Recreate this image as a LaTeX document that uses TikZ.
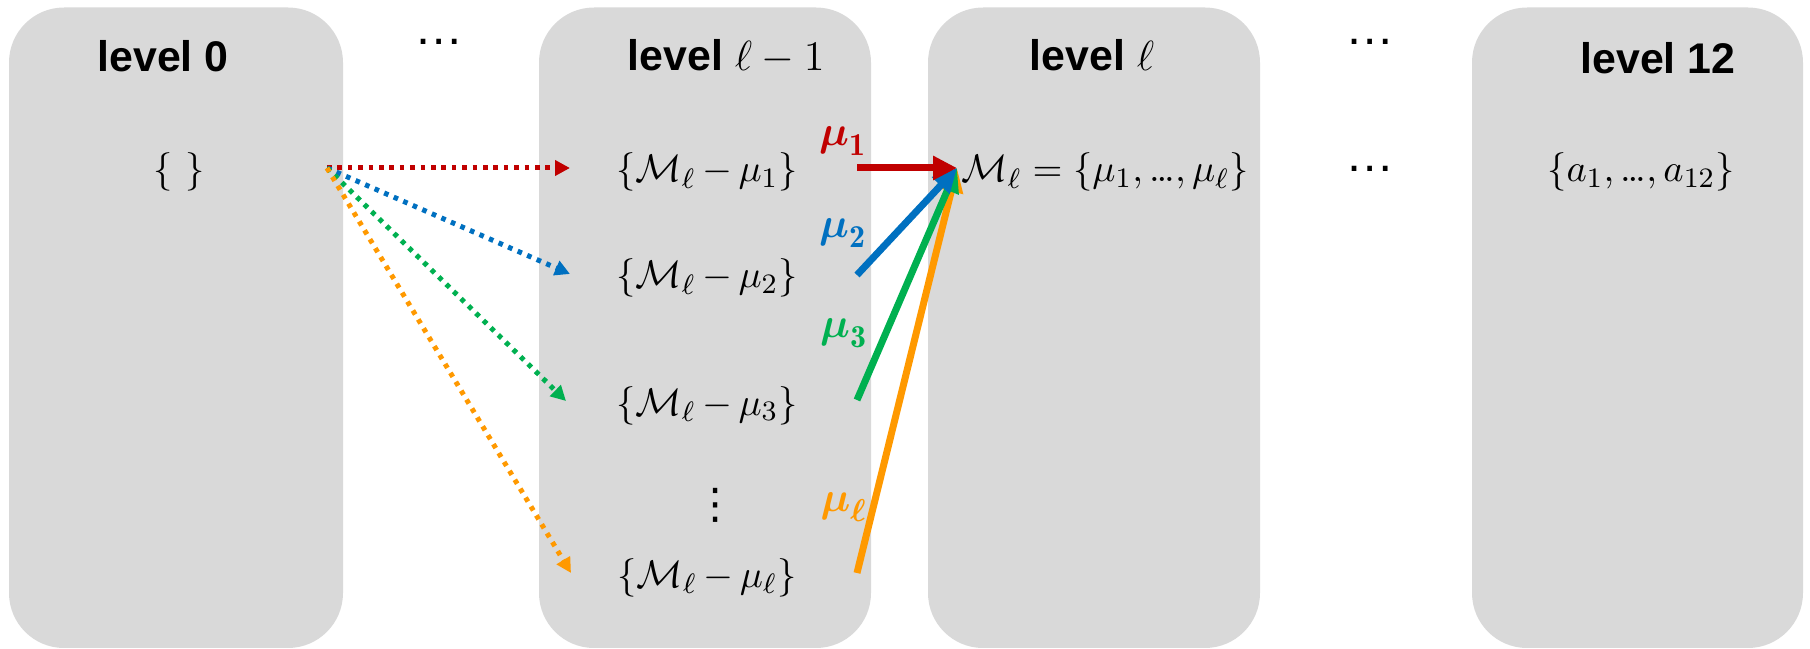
\documentclass[tikz,border=0pt]{standalone}
\usepackage{amsmath}
\usepackage{fontspec}
\newfontfamily\arialf{Liberation Sans}
\newfontfamily\djvf{DejaVu Sans}
\usetikzlibrary{arrows.meta}
\definecolor{boxgray}{HTML}{D9D9D9}
\definecolor{cred}{HTML}{C00000}
\definecolor{cblue}{HTML}{0070C0}
\definecolor{cgreen}{HTML}{00B050}
\definecolor{corange}{HTML}{FF9900}
\newcommand{\cel}{\text{…}}
\newcommand{\tightmu}{\medmuskip=3mu\relax}
\begin{document}
\begin{tikzpicture}[x=0.1mm,y=-0.1mm,
 colbox/.style={fill=boxgray, rounded corners=5.5mm, minimum height=64.05mm, inner sep=0pt},
 lvl/.style={font=\arialf\bfseries\fontsize{12.2}{14}\selectfont, anchor=base, inner sep=0pt},
 setn/.style={font=\fontsize{10.9}{14}\selectfont\tightmu, anchor=base, inner sep=0pt},
 mul/.style={font=\fontsize{13}{15}\selectfont, inner sep=0pt},
 ellip/.style={font=\arialf\fontsize{14}{16}\selectfont, anchor=base, inner sep=0pt},
 dotarr/.style={line width=0.5mm, dash pattern=on 0.46mm off 0.58mm, -{Triangle[length=1.5mm,width=1.5mm]}},
 solarr/.style={line width=0.7mm, -{Triangle[length=2.4mm,width=2.3mm]}},
]
\useasboundingbox (0,0) rectangle (1810,649);
% columns
\node[colbox, minimum width=33.4mm] (b0) at (176,327.75) {};
\node[colbox, minimum width=33.2mm] (b1) at (705,327.75) {};
\node[colbox, minimum width=33.2mm] (b2) at (1094,327.75) {};
\node[colbox, minimum width=33.1mm] (b3) at (1637.5,327.75) {};
% level labels
\node[lvl] (l0) at (163,72) {level 0};
\node[lvl] (l1) at (726,71) {level $\ell-1$};
\node[lvl] (l2) at (1092,71) {level $\ell$};
\node[lvl] (l3) at (1658,74) {level 12};
% ellipses
\node[ellip] (e1) at (439,45) {…};
\node[ellip] (e2) at (1370,45) {…};
\node[ellip] (e3) at (1370,172) {…};
% sets
\node[setn] (s0) at (179,182) {$\{\ \}$};
\node[setn] (s1) at (707,182) {$\{\mathcal{M}_\ell-\mu_1\}$};
\node[setn] (s2) at (707,288) {$\{\mathcal{M}_\ell-\mu_2\}$};
\node[setn] (s3) at (707,415) {$\{\mathcal{M}_\ell-\mu_3\}$};
\node[font=\djvf\fontsize{12}{14}\selectfont, inner sep=0pt] (vd) at (716,505) {⋮};
\node[setn] (sl) at (707,587) {$\{\mathcal{M}_\ell-\mu_\ell\}$};
\node[setn, anchor=base west] (m) at (961,182) {$\mathcal{M}_\ell=\{\mu_1,\cel,\mu_\ell\}$};
\node[setn] (a) at (1641,182) {$\{a_1,\cel,a_{12}\}$};
% mu labels
\node[mul, text=cred] (mu1) at (843,141) {$\boldsymbol{\mu}_{\mathbf{1}}$};
\node[mul, text=cblue] (mu2) at (843,233) {$\boldsymbol{\mu}_{\mathbf{2}}$};
\node[mul, text=cgreen] (mu3) at (844,333) {$\boldsymbol{\mu}_{\mathbf{3}}$};
\node[mul, text=corange] (mul) at (844,507) {$\boldsymbol{\mu}_{\boldsymbol{\ell}}$};
% coordinates
\coordinate (src) at (327,168);
\coordinate (d1) at (570,168);
\coordinate (d2) at (570,274);
\coordinate (d3) at (566,401);
\coordinate (d4) at (571,573);
\coordinate (a1) at (857,168);
\coordinate (a2) at (857,275);
\coordinate (a3) at (857,400);
\coordinate (a4) at (857,573);
\coordinate (tgt) at (957,168);
% dotted arrows
\draw[dotarr, cred] (src) -- (d1);
\draw[dotarr, cblue] (src) -- (d2);
\draw[dotarr, cgreen] (src) -- (d3);
\draw[dotarr, corange] (src) -- (d4);
% solid arrows
\draw[solarr, corange] (a4) -- (tgt);
\draw[solarr, cgreen] (a3) -- (tgt);
\draw[solarr, cblue] (a2) -- (tgt);
\draw[solarr, cred] (a1) -- (tgt);
\end{tikzpicture}
\end{document}
